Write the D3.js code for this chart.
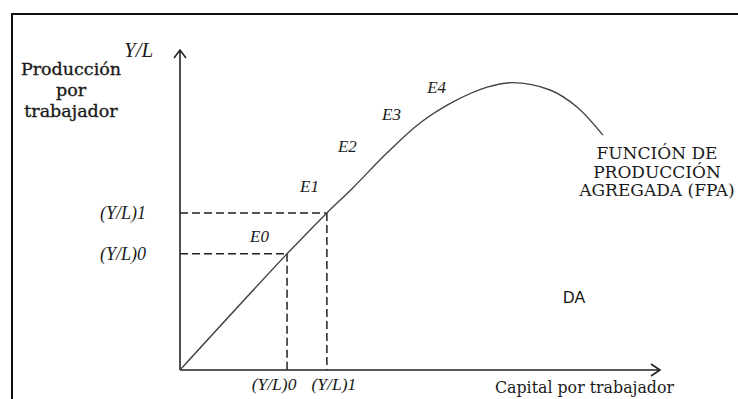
<!DOCTYPE html>
<html>
<head>
<meta charset="utf-8">
<script src="https://cdn.jsdelivr.net/npm/d3@7"></script>
<style>
  body { margin: 0; background: #fff; }
  svg { display: block; }
</style>
</head>
<body>
<svg id="chart" width="738" height="399"></svg>
<script>
// curve of the production function (capital per worker, output per worker)
var curveK = [0, 22.3, 30.6, 36.0, 43.1, 50.0, 56.9, 64.0, 69.2, 77.1, 82.7, 88.1];
var curveY = [0, 36.3, 49.1, 56.9, 67.8, 77.2, 83.8, 88.4, 89.8, 87.5, 82.2, 73.4];

// the two marked equilibria
var markK = [22.3, 30.6];
var markY = [36.3, 49.1];
var markNames = ["(Y/L)0", "(Y/L)1"];

// E labels along the curve
var eNames = ["E0", "E1", "E2", "E3", "E4"];
var eK = [14.6, 25.0, 32.9, 42.1, 51.5];
var eY = [40.0, 55.6, 68.1, 78.1, 86.6];

var SERIF = "'DejaVu Serif', 'Liberation Serif', serif";
var ITAL = "'Liberation Serif', 'DejaVu Serif', serif";

var svg = d3.select("#chart");

var x = d3.scaleLinear().domain([0, 100]).range([180, 660]);
var y = d3.scaleLinear().domain([0, 100]).range([370, 50]);

// frame (top and left edges only are visible)
svg.append("path")
    .attr("d", "M12,399 L12,14 L738,14")
    .attr("fill", "none")
    .attr("stroke", "#111")
    .attr("stroke-width", 2);

// axes with open arrowheads
var ax = svg.append("g").attr("stroke", "#222").attr("fill", "none").attr("stroke-width", 1.6);
ax.append("line").attr("x1", x(0)).attr("y1", y(0)).attr("x2", x(0)).attr("y2", y(100));
ax.append("path").attr("d", d3.line()([[x(0) - 6, y(100) + 8], [x(0), y(100)], [x(0) + 6, y(100) + 8]]));
ax.append("line").attr("x1", x(0)).attr("y1", y(0)).attr("x2", x(100)).attr("y2", y(0));
ax.append("path").attr("d", d3.line()([[x(100) - 9, y(0) - 6], [x(100), y(0)], [x(100) - 9, y(0) + 6]]));

// dashed guides
var guides = svg.append("g").attr("stroke", "#222").attr("stroke-width", 1.5).attr("stroke-dasharray", "8,4");
markK.forEach(function(k, i) {
    guides.append("line").attr("x1", x(0)).attr("y1", y(markY[i])).attr("x2", x(k)).attr("y2", y(markY[i]));
    guides.append("line").attr("x1", x(k)).attr("y1", y(markY[i])).attr("x2", x(k)).attr("y2", y(0));
});

// production curve
var pts = curveK.map(function(k, i) { return [x(k), y(curveY[i])]; });
svg.append("path")
    .attr("d", d3.line().curve(d3.curveCatmullRom.alpha(0.5))(pts))
    .attr("fill", "none")
    .attr("stroke", "#444")
    .attr("stroke-width", 1.4);

function ital(tx, ty, s, anchor, size) {
    return svg.append("text")
        .attr("x", tx).attr("y", ty)
        .attr("text-anchor", anchor || "start")
        .attr("font-family", ITAL).attr("font-style", "italic")
        .attr("font-size", size || 17).attr("fill", "#1a1a1a")
        .text(s);
}

// tick labels
markNames.forEach(function(n, i) {
    ital(x(0) - 34, y(markY[i]) + 6, n, "end", 18);
});
ital(x(markK[0]) - 13, 390, markNames[0], "middle", 17.5);
ital(x(markK[1]) + 7, 390, markNames[1], "middle", 17.5);

eNames.forEach(function(n, i) {
    ital(x(eK[i]), y(eY[i]), n);
});

// axis titles
ital(124, 57, "Y/L", "start", 21);

var yt = svg.append("text").attr("font-family", SERIF).attr("text-anchor", "middle")
    .attr("font-size", 17.5).attr("fill", "#1a1a1a")
    .attr("stroke", "#1a1a1a").attr("stroke-width", 0.35);
["Producción", "por", "trabajador"].forEach(function(s, i) {
    yt.append("tspan").attr("x", 71).attr("y", 75 + i * 21).text(s);
});

svg.append("text").attr("font-family", SERIF).attr("x", 495).attr("y", 393).attr("font-size", 15.8)
    .attr("fill", "#1a1a1a").text("Capital por trabajador");

var ft = svg.append("text").attr("font-family", SERIF).attr("text-anchor", "middle")
    .attr("font-size", 17).attr("fill", "#1a1a1a");
["FUNCIÓN DE", "PRODUCCIÓN", "AGREGADA (FPA)"].forEach(function(s, i) {
    ft.append("tspan").attr("x", 657).attr("y", 159 + i * 18.5).text(s);
});

svg.append("text").attr("x", 563).attr("y", 303)
    .attr("font-family", "'Liberation Sans', Arial, sans-serif").attr("font-size", 16)
    .attr("fill", "#111").text("DA");
</script>
</body>
</html>
